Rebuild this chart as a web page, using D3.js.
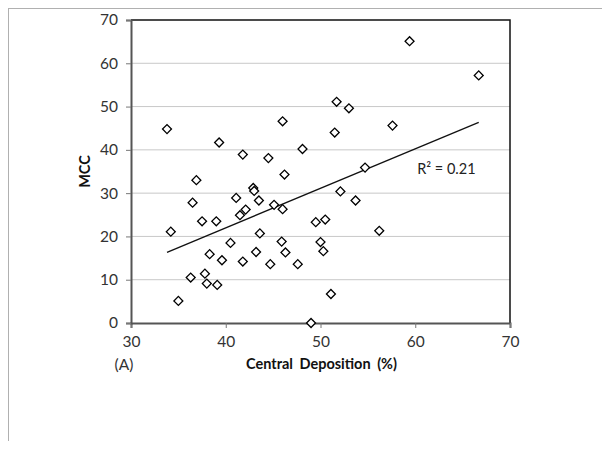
<!DOCTYPE html>
<html>
<head>
<meta charset="utf-8">
<script src="https://cdn.jsdelivr.net/npm/d3@7"></script>
<style>
  body { margin: 0; background: #fff; }
  svg { display: block; font-family: Lato, "Open Sans", sans-serif; }
</style>
</head>
<body>
<div id="chart"></div>
<script>
// Central deposition (%) for each sample
const deposition = [
  33.8, 34.2, 35.0, 36.3, 36.5, 36.9, 37.5, 37.8, 38.0, 38.3,
  39.0, 39.1, 39.3, 39.6, 40.5, 41.1, 41.5, 41.8, 41.8, 42.1,
  42.9, 43.0, 43.2, 43.5, 43.6, 44.5, 44.7, 45.1, 45.9, 46.0,
  46.0, 46.2, 46.3, 47.6, 48.1, 49.0, 49.5, 50.0, 50.3, 50.5,
  51.1, 51.5, 51.7, 52.1, 53.0, 53.7, 54.7, 56.2, 57.6, 59.4,
  66.7
];
// MCC for each sample
const mcc = [
  44.8, 21.1, 5.1, 10.5, 27.8, 33.0, 23.5, 11.4, 9.1, 15.9,
  23.5, 8.8, 41.7, 14.5, 18.5, 28.9, 24.9, 38.9, 14.2, 26.2,
  31.2, 30.5, 16.4, 28.3, 20.7, 38.1, 13.6, 27.3, 18.8, 46.6,
  26.3, 34.3, 16.3, 13.6, 40.2, 0.0, 23.3, 18.7, 16.6, 23.9,
  6.7, 44.0, 51.1, 30.4, 49.6, 28.3, 35.9, 21.3, 45.6, 65.1,
  57.2
];
const xTicks = [30, 40, 50, 60, 70];
const yTicks = [0, 10, 20, 30, 40, 50, 60, 70];
const r2Label = "R\u00b2 = 0.21";

const data = deposition.map((d, i) => ({ x: d, y: mcc[i] }));

const width = 611, height = 449;
const margin = { top: 20, right: 101, bottom: 126, left: 131 };
const w = width - margin.left - margin.right;
const h = height - margin.top - margin.bottom;

const svg = d3.select("#chart").append("svg")
  .attr("width", width)
  .attr("height", height);

// outer chart frame (only top and left visible)
svg.append("line").attr("x1", 8).attr("x2", 602).attr("y1", 8.5).attr("y2", 8.5)
  .attr("stroke", "#b0b0b0");
svg.append("line").attr("x1", 8.5).attr("x2", 8.5).attr("y1", 8).attr("y2", 441)
  .attr("stroke", "#b0b0b0");

const g = svg.append("g").attr("transform", `translate(${margin.left},${margin.top})`);

const x = d3.scaleLinear().domain([30, 70]).range([0, w]);
const y = d3.scaleLinear().domain([0, 70]).range([h, 0]);

// gridlines
g.append("g")
  .selectAll("line")
  .data(yTicks.slice(1, -1))
  .join("line")
  .attr("x1", 0).attr("x2", w)
  .attr("y1", d => y(d)).attr("y2", d => y(d))
  .attr("stroke", "#c8c8c8");

// plot border top/right
g.append("path")
  .attr("d", `M0,${y(70)}H${w}V${h}`)
  .attr("fill", "none")
  .attr("stroke", "#111")
  .attr("stroke-width", 1.5);

// axes
const xAxis = g.append("g")
  .attr("transform", `translate(0,${h})`)
  .call(d3.axisBottom(x).tickValues(xTicks).tickSize(5).tickPadding(8));
const yAxis = g.append("g")
  .call(d3.axisLeft(y).tickValues(yTicks).tickSize(5).tickPadding(8));

[xAxis, yAxis].forEach(a => {
  a.select(".domain").attr("stroke", "#555").attr("stroke-width", 2);
  a.selectAll(".tick line").attr("stroke", "#777");
  a.selectAll("text").attr("font-size", 15.5).attr("fill", "#333")
    .attr("font-family", "Lato, sans-serif");
});

// trend line (least squares fit)
const mx = d3.mean(data, d => d.x), my = d3.mean(data, d => d.y);
const slope = d3.sum(data, d => (d.x - mx) * (d.y - my)) / d3.sum(data, d => (d.x - mx) ** 2);
const icpt = my - slope * mx;
const [x0, x1] = d3.extent(data, d => d.x);
g.append("line")
  .attr("x1", x(x0)).attr("y1", y(icpt + slope * x0))
  .attr("x2", x(x1)).attr("y2", y(icpt + slope * x1))
  .attr("stroke", "#111")
  .attr("stroke-width", 1.3);

// points
const diamond = d3.symbol().type(d3.symbolSquare).size(40);
g.append("g")
  .selectAll("path")
  .data(data)
  .join("path")
  .attr("d", diamond)
  .attr("transform", d => `translate(${x(d.x)},${y(d.y)}) rotate(45)`)
  .attr("fill", "#fff")
  .attr("stroke", "#000")
  .attr("stroke-width", 1.3);

// R² label
g.append("text")
  .attr("x", x(60.2))
  .attr("y", y(34.5))
  .attr("font-size", 14.5)
  .attr("fill", "#222")
  .text(r2Label);

// axis titles
svg.append("text")
  .attr("x", margin.left + w / 2 + 1)
  .attr("y", 369)
  .attr("text-anchor", "middle")
  .attr("font-size", 14.5)
  .attr("font-weight", "bold")
  .attr("fill", "#111")
  .attr("word-spacing", 3)
  .text("Central Deposition (%)");

svg.append("text")
  .attr("x", 124)
  .attr("y", 370)
  .attr("text-anchor", "middle")
  .attr("font-size", 15.5)
  .attr("fill", "#333")
  .text("(A)");

svg.append("text")
  .attr("transform", `translate(90,${margin.top + y(35)}) rotate(-90)`)
  .attr("text-anchor", "middle")
  .attr("font-size", 14.5)
  .attr("font-weight", "bold")
  .attr("fill", "#111")
  .text("MCC");
</script>
</body>
</html>
